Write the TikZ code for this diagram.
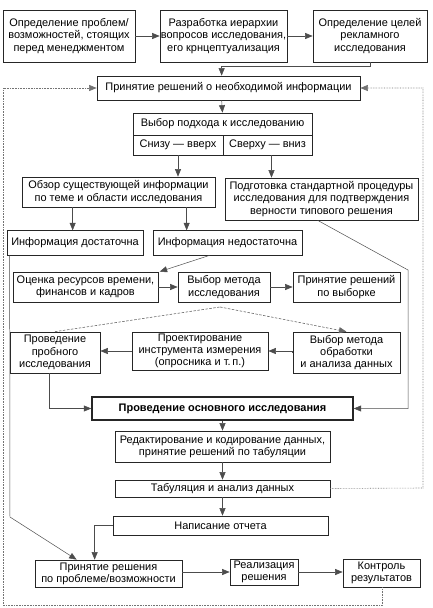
\documentclass[tikz,border=0pt]{standalone}
\usepackage{fontspec}
\setmainfont{Liberation Sans}
\usetikzlibrary{calc,arrows.meta}
\begin{document}
\begin{tikzpicture}[x=1bp,y=-1bp,
  box/.style={draw=black!85, line width=0.7pt, inner sep=0.5pt, align=center,
    font=\fontsize{11}{12.3}\selectfont},
  ln/.style={draw=black!70, line width=0.5pt},
  arr/.style={-{Triangle[length=7.5bp,width=6bp]}},
  fb/.style={draw=black!55, line width=0.6pt, densely dotted},
  dsh/.style={draw=black!60, line width=0.6pt, dash pattern=on 2.5bp off 1.5bp}]
\useasboundingbox (0,0) rectangle (432,608);
% boxes
\node[box, minimum width=132bp, minimum height=52bp] (B1) at (69,36) {Определение проблем/\\возможностей, стоящих\\перед менеджментом};
\node[box, minimum width=127bp, minimum height=52bp] (B2) at (223.5,36) {Разработка иерархии\\вопросов исследования,\\его крнцептуализация};
\node[box, minimum width=114bp, minimum height=52bp] (B3) at (370,36) {Определение целей\\рекламного\\исследования};
\node[box, minimum width=263bp, minimum height=24bp] (B4) at (228.5,88) {Принятие решений о необходимой информации};
\node[box, minimum width=179bp, minimum height=22bp] (B5) at (222.5,124) {Выбор подхода к исследованию};
\node[box, minimum width=90bp, minimum height=20bp] (B5l) at (178,145) {Снизу — вверх};
\node[box, minimum width=89bp, minimum height=20bp] (B5r) at (267.5,145) {Сверху — вниз};
\node[box, minimum width=193bp, minimum height=30bp] (B6) at (118.5,192) {Обзор существующей информации\\по теме и области исследования};
\node[box, minimum width=193bp, minimum height=42bp] (B7) at (321.5,199) {Подготовка стандартной процедуры\\исследования для подтверждения\\верности типового решения};
\node[box, minimum width=136bp, minimum height=25bp] (B8) at (75,242.5) {Информация достаточна};
\node[box, minimum width=149bp, minimum height=25bp] (B9) at (227.5,242.5) {Информация недостаточна};
\node[box, minimum width=145bp, minimum height=30bp] (B10) at (85.5,287) {Оценка ресурсов времени,\\финансов и кадров};
\node[box, minimum width=92bp, minimum height=30bp] (B11) at (224,287) {Выбор метода\\исследования};
\node[box, minimum width=107bp, minimum height=30bp] (B12) at (346.5,287) {Принятие решений\\по выборке};
\node[box, minimum width=90bp, minimum height=41bp] (B13) at (55,352.5) {Проведение\\пробного\\исследования};
\node[box, minimum width=136bp, minimum height=38bp] (B14) at (200,351) {Проектирование\\инструмента измерения\\(опросника и т.\,п.)};
\node[box, minimum width=107bp, minimum height=41bp] (B15) at (346.5,352.5) {Выбор метода\\обработки\\и анализа данных};
\node[box, line width=1.4pt, minimum width=261bp, minimum height=23bp, font=\fontsize{11}{12.3}\selectfont\bfseries] (B16) at (222.5,408.5) {Проведение основного исследования};
\node[box, minimum width=215bp, minimum height=31bp] (B17) at (222.5,446.5) {Редактирование и кодирование данных,\\принятие решений по табуляции};
\node[box, minimum width=215bp, minimum height=17bp] (B18) at (222.5,488.5) {Табуляция и анализ данных};
\node[box, minimum width=215bp, minimum height=19bp] (B19) at (220.5,525.5) {Написание отчета};
\node[box, minimum width=147bp, minimum height=27bp] (B20) at (108.5,573.5) {Принятие решения\\по проблеме/возможности};
\node[box, minimum width=68bp, minimum height=26bp] (B21) at (264,572) {Реализация\\решения};
\node[box, minimum width=77bp, minimum height=28bp] (B22) at (381.5,573) {Контроль\\результатов};
% named free points
\coordinate (LB) at (3,605);
\coordinate (RC) at (423,488);
\coordinate (AP) at (220,307);
\coordinate (K1) at (10,517);
\coordinate (K2) at (408,270);
% connectors
\draw[ln,arr] (B1.east) -- (B2.west);
\draw[ln,arr] (B2.east) -- (B3.west);
\draw[ln,arr] ($(B3.south west)+(58,0)$) -- ++(0,4) -| ($(B4.north west)+(125,0)$);
\draw[ln,arr] ($(B4.south west)+(125,0)$) -- (B5.north);
\draw[ln,arr] (B5l.south) -- (B5l.south |- B6.north);
\draw[ln,arr] ($(B5r.south)+(4,0)$) -- ($(B5r.south |- B7.north)+(4,0)$);
\draw[ln,arr] ($(B6.south west)+(51,0)$) -- ($(B6.south west)+(51,23)$);
\draw[ln,arr] ($(B6.south west)+(165,0)$) -- ($(B6.south west)+(165,23)$);
\draw[ln,arr] ($(B9.south west)+(57,0)$) -- ($(B10.north west)+(147,0)$);
\draw[ln,arr] ($(B8.south west)+(3,0)$) -- (K1) -- ($(B20.north west)+(42,0)$);
\draw[ln,arr] ($(B7.south west)+(93,0)$) -- (K2) |- (B16.east);
\draw[ln,arr] (B10.east) -- (B11.west);
\draw[ln,arr] (B11.east) -- (B12.west);
\draw[ln,arr] (B15.west) -- (B14.west -| B15.west) -- (B14.east);
\draw[ln,arr] (B14.west) -- (B13.east |- B14.west);
\draw[ln,arr] ($(B13.south west)+(40,0)$) |- (B16.west);
\draw[ln,arr] (B16.south) -- (B17.north);
\draw[ln,arr] (B17.south) -- (B18.north);
\draw[ln,arr] (B18.south) -- (B18.south |- B19.north);
\draw[ln,arr] (B19.west) -| ($(B20.north west)+(60,0)$);
\draw[ln,arr] (B20.east |- B21.west) -- (B21.west);
\draw[ln,arr] (B21.east) -- (B22.west |- B21.east);
\draw[dsh] (B13.north) -- (AP);
\draw[dsh,arr] (AP) -- (B15.north);
\draw[fb,arr] ($(B22.south west)+(40,0)$) |- (LB) |- (B4.west);
\draw[fb,arr] (B18.east) -- (RC) |- (B4.east);
\end{tikzpicture}
\end{document}
